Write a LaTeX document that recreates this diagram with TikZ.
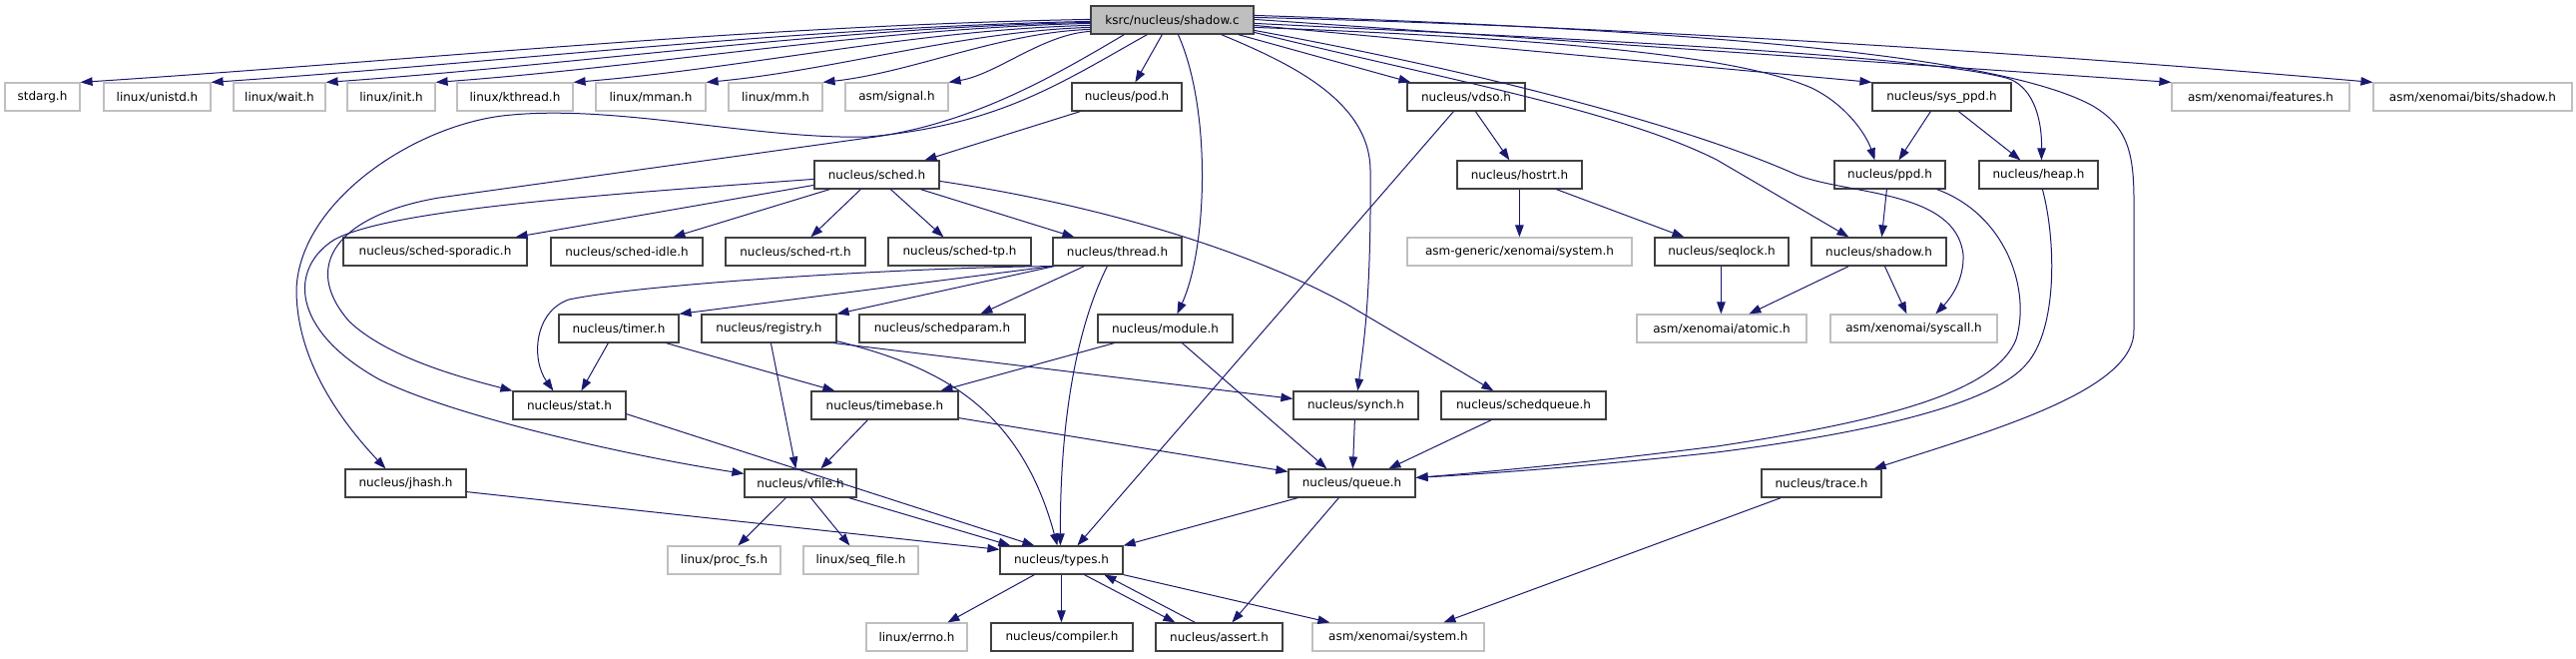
\documentclass[tikz,border=0pt]{standalone}
\usepackage{fontspec}
\setmainfont{DejaVu Sans}
\usetikzlibrary{arrows.meta}
\definecolor{edgeblue}{HTML}{191970}
\definecolor{dgray}{HTML}{404040}
\definecolor{lgray}{HTML}{BFBFBF}
\newcommand\gnode[6]{\node[#1,minimum width={(#4-#3)*1pt}] (#2) at ({(#3+#4)/2},{#5+14}) {#6};}
\begin{document}
\begin{tikzpicture}[x=1pt,y=-1pt,
  font=\fontsize{12}{14}\selectfont,
  nb/.style={draw=dgray,fill=white,line width=1.2pt,inner sep=0pt,minimum height=28pt},
  ext/.style={draw=lgray,fill=white,line width=1.2pt,inner sep=0pt,minimum height=28pt},
  root/.style={draw=dgray,fill=lgray,line width=1.2pt,inner sep=0pt,minimum height=28pt},
  e/.style={draw=edgeblue,line width=1pt,-{Triangle[length=12pt,width=8.5pt,fill=edgeblue]}}]
\useasboundingbox[fill=white] (0,0) rectangle (2581,659);
% nodes
\gnode{root}{sc}{1093}{1256}{6}{ksrc/nucleus/shadow.c}
\gnode{ext}{stdarg}{5}{80}{83}{stdarg.h}
\gnode{ext}{unistd}{104}{211}{83}{linux/unistd.h}
\gnode{ext}{wait}{234}{326}{83}{linux/wait.h}
\gnode{ext}{init}{348}{436}{83}{linux/init.h}
\gnode{ext}{kthread}{458}{574}{83}{linux/kthread.h}
\gnode{ext}{mman}{597}{707}{83}{linux/mman.h}
\gnode{ext}{mm}{730}{824}{83}{linux/mm.h}
\gnode{ext}{signal}{847}{950}{83}{asm/signal.h}
\gnode{nb}{pod}{1074}{1184}{83}{nucleus/pod.h}
\gnode{nb}{vdso}{1410}{1528}{83}{nucleus/vdso.h}
\gnode{nb}{sysppd}{1876}{2015}{83}{nucleus/sys\_ppd.h}
\gnode{ext}{features}{2176}{2354}{83}{asm/xenomai/features.h}
\gnode{ext}{bitsshadow}{2378}{2577}{83}{asm/xenomai/bits/shadow.h}
\gnode{nb}{sched}{816}{941}{161}{nucleus/sched.h}
\gnode{nb}{hostrt}{1460}{1585}{161}{nucleus/hostrt.h}
\gnode{nb}{ppd}{1838}{1949}{161}{nucleus/ppd.h}
\gnode{nb}{heap}{1983}{2102}{161}{nucleus/heap.h}
\gnode{nb}{sporadic}{344}{528}{238}{nucleus/sched-sporadic.h}
\gnode{nb}{idle}{552}{704}{238}{nucleus/sched-idle.h}
\gnode{nb}{rt}{727}{867}{238}{nucleus/sched-rt.h}
\gnode{nb}{tp}{890}{1033}{238}{nucleus/sched-tp.h}
\gnode{nb}{thread}{1055}{1184}{238}{nucleus/thread.h}
\gnode{ext}{agsystem}{1410}{1635}{238}{asm-generic/xenomai/system.h}
\gnode{nb}{seqlock}{1658}{1792}{238}{nucleus/seqlock.h}
\gnode{nb}{shadowh}{1815}{1950}{238}{nucleus/shadow.h}
\gnode{nb}{timer}{560}{680}{315}{nucleus/timer.h}
\gnode{nb}{registry}{703}{838}{315}{nucleus/registry.h}
\gnode{nb}{schedparam}{861}{1027}{315}{nucleus/schedparam.h}
\gnode{nb}{module}{1100}{1235}{315}{nucleus/module.h}
\gnode{ext}{atomic}{1640}{1810}{315}{asm/xenomai/atomic.h}
\gnode{ext}{syscall}{1834}{2001}{315}{asm/xenomai/syscall.h}
\gnode{nb}{stat}{514}{627}{392}{nucleus/stat.h}
\gnode{nb}{timebase}{813}{960}{392}{nucleus/timebase.h}
\gnode{nb}{synch}{1296}{1421}{392}{nucleus/synch.h}
\gnode{nb}{schedqueue}{1444}{1609}{392}{nucleus/schedqueue.h}
\gnode{nb}{jhash}{346}{467}{470}{nucleus/jhash.h}
\gnode{nb}{vfile}{746}{858}{470}{nucleus/vfile.h}
\gnode{nb}{queue}{1291}{1418}{470}{nucleus/queue.h}
\gnode{nb}{trace}{1765}{1885}{470}{nucleus/trace.h}
\gnode{ext}{procfs}{669}{782}{547}{linux/proc\_fs.h}
\gnode{ext}{seqfile}{805}{920}{547}{linux/seq\_file.h}
\gnode{nb}{types}{1002}{1125}{547}{nucleus/types.h}
\gnode{ext}{errno}{868}{969}{624}{linux/errno.h}
\gnode{nb}{compiler}{993}{1135}{624}{nucleus/compiler.h}
\gnode{nb}{assert}{1158}{1285}{624}{nucleus/assert.h}
\gnode{ext}{system}{1315}{1487}{624}{asm/xenomai/system.h}
% edges from shadow.c
\draw[e] ([yshift=-14pt]sc.north west) .. controls +(-338,6) and +(338,-22) .. (stdarg.north east);
\draw[e] ([yshift=-16pt]sc.north west) .. controls +(-294,6) and +(294,-20) .. (unistd.north east);
\draw[e] ([yshift=-17pt]sc.north west) .. controls +(-256,5) and +(256,-18) .. (wait.north east);
\draw[e] ([yshift=-18pt]sc.north west) .. controls +(-219,5) and +(219,-16) .. (init.north east);
\draw[e] ([yshift=-20pt]sc.north west) .. controls +(-173,4) and +(173,-14) .. (kthread.north east);
\draw[e] ([yshift=-22pt]sc.north west) .. controls +(-129,4) and +(129,-12) .. (mman.north east);
\draw[e] ([yshift=-24pt]sc.north west) .. controls +(-90,3) and +(90,-10) .. (mm.north east);
\draw[e] ([yshift=-26pt]sc.north west) .. controls +(-48,3) and +(48,-8) .. (signal.north east);
\draw[e] ([xshift=72pt]sc.south west) -- ([xshift=64pt]pod.north west);
\draw[e] ([xshift=-16pt]sc.south east) -- ([xshift=4pt]vdso.north west);
\draw[e] ([yshift=-20pt]sc.north east) -- (sysppd.north west);
\draw[e] ([yshift=-14pt]sc.north east) -- (features.north west);
\draw[e] ([yshift=-12pt]sc.north east) .. controls +(400,10) and +(-300,-26) .. (bitsshadow.north west);
\draw[e] ([xshift=88pt]sc.south west) .. controls +(34,76) and +(30,-65) .. ([xshift=80pt]module.north west);
\draw[e] ([xshift=-33pt]sc.south east) .. controls +(67,28) and (1372,100) .. (1373,170) .. controls (1374,300) and (1366,345) .. ([xshift=65pt]synch.north west);
\draw[e] ([yshift=-18pt]sc.north east) .. controls (1600,40) and (1920,55) .. (2010,78) .. controls (2035,85) and (2046,115) .. ([xshift=63pt]heap.north west);
\draw[e] ([yshift=-22pt]sc.north east) .. controls (1600,40) and (1750,60) .. (1815,88) .. controls (1850,105) and (1870,135) .. ([xshift=41pt]ppd.north west);
\draw[e] ([yshift=-27pt]sc.north east) .. controls (1450,80) and (1620,110) .. (1720,160) -- ([xshift=38pt]shadowh.north west);
\draw[e] ([yshift=-25pt]sc.north east) .. controls (1500,75) and (1700,130) .. (1800,175) .. controls (1850,195) and (1960,190) .. (1967,255) .. controls (1968,280) and (1955,298) .. ([xshift=106pt]syscall.north west);
\draw[e] ([yshift=-10pt]sc.north east) .. controls (1700,30) and (2000,55) .. (2095,105) .. controls (2130,125) and (2138,150) .. (2138,200) -- (2138,330) .. controls (2140,390) and (2000,430) .. ([xshift=-8pt]trace.north east);
\draw[e] ([xshift=34pt]sc.south west) .. controls (1050,80) and (970,125) .. (870,138) -- (440,198) .. controls (340,215) and (300,265) .. (350,322) .. controls (390,360) and (470,380) .. (stat.north west);
\draw[e] ([xshift=57pt]sc.south west) .. controls (1060,85) and (1000,125) .. (870,137) .. controls (760,140) and (620,105) .. (513,115) .. controls (420,122) and (300,200) .. (297,290) .. controls (297,360) and (340,420) .. ([xshift=41pt]jhash.north west);
% pod, sched
\draw[e] ([xshift=9pt]pod.south west) -- ([xshift=111pt]sched.north west);
\draw[e] ([yshift=-19pt]sched.north west) .. controls (600,195) and (390,210) .. (335,240) .. controls (290,268) and (290,330) .. (380,380) .. controls (450,415) and (620,455) .. ([yshift=-5pt]vfile.north west);
\draw[e] ([yshift=-25pt]sched.north west) -- ([xshift=-12pt]sporadic.north east);
\draw[e] ([xshift=16pt]sched.south west) -- ([xshift=123pt]idle.north west);
\draw[e] ([xshift=47pt]sched.south west) -- ([xshift=86pt]rt.north west);
\draw[e] ([xshift=77pt]sched.south west) -- ([xshift=56pt]tp.north west);
\draw[e] ([xshift=107pt]sched.south west) -- ([xshift=22pt]thread.north west);
\draw[e] ([yshift=-21pt]sched.north east) .. controls (1100,205) and (1250,250) .. (1350,305) -- ([xshift=53pt]schedqueue.north west);
% thread
\draw[e] (thread.south west) -- (timer.north east);
\draw[e] ([xshift=2pt]thread.south west) -- (registry.north east);
\draw[e] (thread.south west) .. controls (900,268) and (640,285) .. (570,300) .. controls (535,312) and (532,360) .. ([xshift=41pt]stat.north west);
\draw[e] ([xshift=32pt]thread.south west) -- ([xshift=122pt]schedparam.north west);
\draw[e] ([xshift=55pt]thread.south west) .. controls (1085,315) and (1062,400) .. ([xshift=61pt]types.north west);
% timer, registry, module, timebase
\draw[e] ([xshift=50pt]timer.south west) -- ([xshift=69pt]stat.north west);
\draw[e] ([xshift=108pt]timer.south west) -- ([xshift=24pt]timebase.north west);
\draw[e] ([xshift=70pt]registry.south west) -- ([xshift=52pt]vfile.north west);
\draw[e] ([xshift=-3pt]registry.south east) -- ([yshift=-8pt]synch.north west);
\draw[e] ([yshift=2pt]registry.south east) .. controls (930,365) and (1020,400) .. ([xshift=58pt]types.north west);
\draw[e] ([xshift=17pt]module.south west) -- ([xshift=130pt]timebase.north west);
\draw[e] ([xshift=85pt]module.south west) -- ([xshift=39pt]queue.north west);
\draw[e] ([xshift=57pt]timebase.south west) -- ([xshift=77pt]vfile.north west);
\draw[e] ([yshift=2pt]timebase.south east) -- ([yshift=-3pt]queue.north west);
% vfile, stat, jhash
\draw[e] ([xshift=42pt]vfile.south west) -- ([xshift=71pt]procfs.north west);
\draw[e] ([xshift=67pt]vfile.south west) -- ([xshift=47pt]seqfile.north west);
\draw[e] ([xshift=-8pt]vfile.south east) -- ([xshift=11pt]types.north west);
\draw[e] ([yshift=6pt]stat.south east) -- ([xshift=35pt]types.north west);
\draw[e] ([yshift=6pt]jhash.south east) -- ([yshift=-4pt]types.north west);
% vdso, hostrt, right side
\draw[e] ([xshift=47pt]vdso.south west) -- ([xshift=78pt]types.north west);
\draw[e] ([xshift=69pt]vdso.south west) -- ([xshift=53pt]hostrt.north west);
\draw[e] ([xshift=63pt]hostrt.south west) -- ([xshift=113pt]agsystem.north west);
\draw[e] ([xshift=100pt]hostrt.south west) -- ([xshift=30pt]seqlock.north west);
\draw[e] ([xshift=67pt]seqlock.south west) -- ([xshift=85pt]atomic.north west);
\draw[e] ([xshift=38pt]shadowh.south west) -- ([xshift=113pt]atomic.north west);
\draw[e] ([xshift=74pt]shadowh.south west) -- ([xshift=77pt]syscall.north west);
\draw[e] ([xshift=53pt]ppd.south west) -- ([xshift=71pt]shadowh.north west);
\draw[e] ([xshift=59pt]sysppd.south west) -- ([xshift=65pt]ppd.north west);
\draw[e] ([xshift=87pt]sysppd.south west) -- ([xshift=42pt]heap.north west);
\draw[e] ([xshift=-9pt]ppd.south east) .. controls (2010,215) and (2035,290) .. (2020,340) .. controls (2000,390) and (1900,420) .. (1720,447) .. controls (1600,462) and (1500,472) .. ([yshift=-9pt]queue.north east);
\draw[e] ([xshift=64pt]heap.south west) .. controls (2060,240) and (2062,330) .. (2030,365) .. controls (2000,400) and (1900,430) .. (1720,453) .. controls (1600,466) and (1500,474) .. ([yshift=-9pt]queue.north east);
% queue, types
\draw[e] ([xshift=62pt]synch.south west) -- ([xshift=65pt]queue.north west);
\draw[e] ([xshift=51pt]schedqueue.south west) -- ([xshift=101pt]queue.north west);
\draw[e] ([xshift=10pt]queue.south west) -- (types.north east);
\draw[e] ([xshift=51pt]queue.south west) -- ([xshift=77pt]assert.north west);
\draw[e] ([xshift=35pt]types.south west) -- ([xshift=82pt]errno.north west);
\draw[e] ([xshift=62pt]types.south west) -- ([xshift=71pt]compiler.north west);
\draw[e] ([xshift=85pt]types.south west) -- ([xshift=20pt]assert.north west);
\draw[e] ([xshift=40pt]assert.north west) -- ([xshift=105pt]types.south west);
\draw[e] (types.south east) -- ([xshift=18pt]system.north west);
\draw[e] ([xshift=20pt]trace.south west) -- ([xshift=132pt]system.north west);
\end{tikzpicture}
\end{document}
